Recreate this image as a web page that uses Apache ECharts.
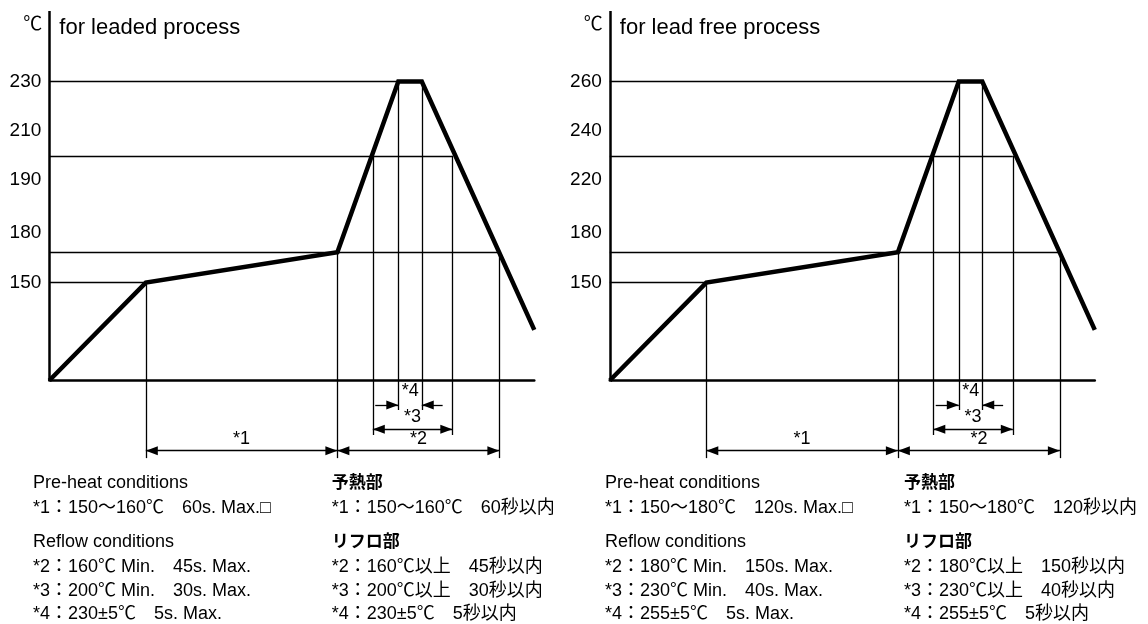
<!DOCTYPE html>
<html><head><meta charset="utf-8">
<script src="https://cdn.jsdelivr.net/npm/echarts@6/dist/echarts.min.js"></script>
<style>html,body{margin:0;padding:0;background:#fff}#c{width:1148px;height:624px}</style>
</head><body><div id="c"></div>
<script>
// Schematic units: x = time across the profile (0..100), y = height level (0 = time axis)
const profileX = [0, 19.9, 59.4, 71.96, 76.8, 100];
const profileY = [0, 26.5, 34.7, 80.9, 80.9, 13.7];

// horizontal guide lines: level and where they stop
const guideLevels = [80.9, 60.8, 34.7, 26.5];
const guideEnds = [71.96, 83.1, 92.8, 19.9];

// vertical extension lines
const markTimes = [19.9, 59.4, 66.7, 71.96, 76.8, 83.1, 92.8];
const markTops = [26.5, 34.7, 60.8, 80.9, 80.9, 60.8, 34.7];
const markBottoms = [-21, -21, -14.75, -8, -8, -14.75, -21];

// dimension arrows *1 *2 *3
const dimNames = ['*1', '*2', '*3'];
const dimFrom = [19.9, 59.4, 66.7];
const dimTo = [59.4, 92.8, 83.1];
const dimLevel = [-19, -19, -13.2];

// *4 inward arrows
const peakTails = [67.2, 81.1];
const peakHeads = [71.96, 76.8];
const peakArrowLevel = -6.6;
const peakLabelPos = [74.4, -2.8];

// y tick labels
const tickLevels = [26.5, 39.9, 54.3, 67.5, 80.9];
const leadedTicks = ['150', '180', '190', '210', '230'];
const leadFreeTicks = ['150', '180', '220', '240', '260'];

const leadedEn = ['Pre-heat conditions', '*1：150〜160℃　60s. Max.□', 'Reflow conditions', '*2：160℃ Min.　45s. Max.', '*3：200℃ Min.　30s. Max.', '*4：230±5℃　5s. Max.'];
const leadedJa = ['予熱部', '*1：150〜160℃　60秒以内', 'リフロ部', '*2：160℃以上　45秒以内', '*3：200℃以上　30秒以内', '*4：230±5℃　5秒以内'];
const leadFreeEn = ['Pre-heat conditions', '*1：150〜180℃　120s. Max.□', 'Reflow conditions', '*2：180℃ Min.　150s. Max.', '*3：230℃ Min.　40s. Max.', '*4：255±5℃　5s. Max.'];
const leadFreeJa = ['予熱部', '*1：150〜180℃　120秒以内', 'リフロ部', '*2：180℃以上　150秒以内', '*3：230℃以上　40秒以内', '*4：255±5℃　5秒以内'];

const FONT = "'Liberation Sans', Arial, 'Noto Sans CJK JP', sans-serif";
const lineBaselines = [489, 514, 548, 573, 597, 620];
// arrowhead whose tip sits at the symbol centre
const HEAD = 'path://M0,-12M0,0L5,12L-5,12Z';

const chart = echarts.init(document.getElementById('c'));
const grids = [], xAxes = [], yAxes = [], series = [], graphics = [];

function panel(i, left, ticks, title, en, ja, enX, jaX) {
  grids.push({ left: left, top: 11, width: 485, height: 461.9 });
  xAxes.push({ type: 'value', gridIndex: i, min: 0, max: 100,
    axisLine: { show: true, onZero: true, lineStyle: { color: '#000', width: 2.5 } },
    axisTick: { show: false }, axisLabel: { show: false }, splitLine: { show: false } });
  yAxes.push({ type: 'value', gridIndex: i, min: -25, max: 100,
    axisLine: { show: false }, axisTick: { show: false }, splitLine: { show: false },
    axisLabel: { customValues: tickLevels, margin: 8, color: '#000', fontSize: 19, fontFamily: FONT,
      formatter: v => ticks[tickLevels.indexOf(v)] } });

  const thin = { color: '#000', width: 1.3, type: 'solid' };
  const guides = [];
  guides.push([{ coord: [0, 0], lineStyle: { width: 2.5, color: '#000', type: 'solid' } }, { coord: [0, 100] }]);
  guideLevels.forEach((lv, k) => guides.push([{ coord: [0, lv] }, { coord: [guideEnds[k], lv] }]));
  markTimes.forEach((t, k) => guides.push([{ coord: [t, markTops[k]] }, { coord: [t, markBottoms[k]] }]));

  series.push({ type: 'line', xAxisIndex: i, yAxisIndex: i, clip: false, z: 5,
    data: profileX.map((x, k) => [x, profileY[k]]), symbol: 'none',
    lineStyle: { color: '#000', width: 4.5, join: 'miter' },
    markLine: { silent: true, symbol: 'none', animation: false, lineStyle: thin,
      label: { show: false }, emphasis: { disabled: true }, data: guides } });

  const arrows = [];
  dimNames.forEach((n, k) => arrows.push([
    { coord: [dimFrom[k], dimLevel[k]], name: n },
    { coord: [dimTo[k], dimLevel[k]] }]));
  peakTails.forEach((t, k) => arrows.push([
    { coord: [t, peakArrowLevel], symbol: 'none', label: { show: false } },
    { coord: [peakHeads[k], peakArrowLevel], symbol: HEAD }]));

  series.push({ type: 'line', xAxisIndex: i, yAxisIndex: i, data: [], clip: false,
    markLine: { silent: true, animation: false, symbol: [HEAD, HEAD], symbolSize: [9, 24],
      lineStyle: thin, emphasis: { disabled: true },
      label: { show: true, position: 'middle', formatter: '{b}', color: '#000', fontSize: 18, fontFamily: FONT, distance: 3 },
      data: arrows },
    markPoint: { silent: true, animation: false, symbol: 'rect', symbolSize: 1, itemStyle: { color: 'rgba(0,0,0,0)' },
      label: { show: true, position: 'inside', formatter: '*4', color: '#000', fontSize: 18, fontFamily: FONT },
      data: [{ coord: peakLabelPos }] } });

  graphics.push({ type: 'text', left: left - 26, top: 15, style: { text: '℃', font: "19px 'Liberation Sans', 'Noto Sans CJK JP'", fill: '#000' } });
  graphics.push({ type: 'text', x: left + 10, y: 28, style: { text: title, font: "22px " + FONT, fill: '#000', verticalAlign: 'middle' } });
  en.forEach((s, k) => graphics.push({ type: 'text', x: enX, y: lineBaselines[k] - 6, style: { text: s, font: '18px ' + FONT, fill: '#000', verticalAlign: 'middle' } }));
  ja.forEach((s, k) => graphics.push({ type: 'text', x: jaX, y: lineBaselines[k] - 6, style: { text: s, font: ((k === 0 || k === 2) ? 'bold 17px ' : '18px ') + FONT, fill: '#000', verticalAlign: 'middle' } }));
}

panel(0, 49.3, leadedTicks, 'for leaded process', leadedEn, leadedJa, 33, 331.7);
panel(1, 609.8, leadFreeTicks, 'for lead free process', leadFreeEn, leadFreeJa, 605, 904);

chart.setOption({ animation: false, backgroundColor: '#fff', grid: grids, xAxis: xAxes, yAxis: yAxes, series: series, graphic: graphics });
</script></body></html>
